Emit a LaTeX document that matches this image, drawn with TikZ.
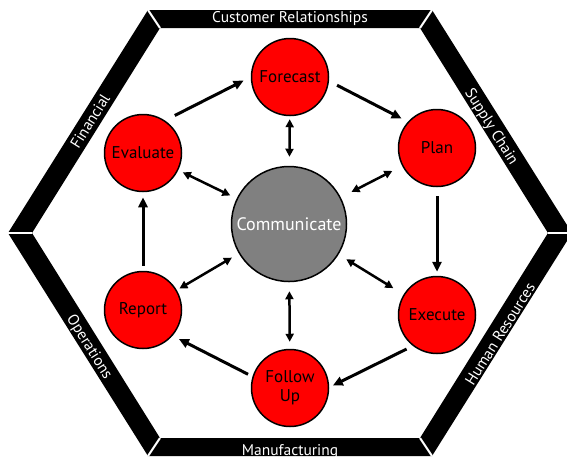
\documentclass[tikz,border=0pt]{standalone}
\usepackage{fontspec}
\setmainfont{PT Sans}
\usetikzlibrary{arrows.meta}
\pgfdeclarelayer{bg}
\pgfsetlayers{bg,main}
\tikzstyle{stage}=[fill=red, draw=black, line width=1.5pt, shape=circle, minimum size=77pt, inner sep=0pt, align=center, font=\fontsize{17}{19}\selectfont]
\tikzstyle{hub}=[fill=gray, draw=black, line width=1.5pt, shape=circle, minimum size=115pt, inner sep=0pt, text=white, font=\fontsize{18}{20}\selectfont]
\tikzstyle{flow}=[-{Triangle[length=10pt,width=9pt]}, line width=3pt]
\tikzstyle{link}=[{Triangle[length=8pt,width=8pt]}-{Triangle[length=8pt,width=8pt]}, line width=2.5pt]
\tikzstyle{band}=[fill=black, even odd rule]
\tikzstyle{gap}=[draw=white, line width=2pt]
\tikzstyle{bandtext}=[text=white, font=\fontsize{15.5}{17}\selectfont]

\begin{document}
\begin{tikzpicture}[x=1pt, y=-1pt]
    \useasboundingbox (0, 0) rectangle (567, 456);

    % the frame
    \fill [band] (148, 10) -- (432, 10) -- (572, 233) -- (432, 456) -- (148, 456) -- (8, 233) -- cycle
                 (160, 28) -- (420, 28) -- (548, 233) -- (420, 438) -- (160, 438) -- (32, 233) -- cycle;
    \draw [gap] (148, 10) -- (160, 28);
    \draw [gap] (432, 10) -- (420, 28);
    \draw [gap] (572, 233) -- (548, 233);
    \draw [gap] (432, 456) -- (420, 438);
    \draw [gap] (148, 456) -- (160, 438);
    \draw [gap] (8, 233) -- (32, 233);

    \node [bandtext] (t1) at (290, 19) {Customer Relationships};
    \node [bandtext, rotate=-58] (t2) at (491, 127) {Supply Chain};
    \node [bandtext, rotate=58] (t3) at (500, 334) {Human Resources};
    \node [bandtext] (t4) at (290, 452) {Manufacturing};
    \node [bandtext, rotate=-58] (t5) at (89, 347) {Operations};
    \node [bandtext, rotate=58] (t6) at (90, 121) {Financial};

    % the cycle
    \node [hub] (cm) at (289, 224) {Communicate};
    \node [stage] (fc) at (290, 77) {Forecast};
    \node [stage] (pl) at (437, 148) {Plan};
    \node [stage] (ex) at (437, 315) {Execute};
    \node [stage] (fu) at (290, 388) {Follow\\Up};
    \node [stage] (rp) at (143, 310) {Report};
    \node [stage] (ev) at (143, 153) {Evaluate};

    \begin{pgfonlayer}{bg}
        \draw [flow, shorten <=11pt, shorten >=8pt] (ev.56) -- (fc.180);
        \draw [flow, shorten <=9pt, shorten >=7pt] (fc.-6) -- (pl.138);
        \draw [flow, shorten <=9pt, shorten >=4pt] (pl.south) -- (ex.north);
        \draw [flow, shorten <=7pt, shorten >=4pt] (ex.232) -- (fu.1);
        \draw [flow, shorten <=5pt, shorten >=7pt] (fu.163) -- (rp.-41);
        \draw [flow, shorten <=5pt, shorten >=5pt] (rp.north) -- (ev.south);

        \draw [link, shorten <=9pt, shorten >=3pt] (cm) -- (fc);
        \draw [link, shorten <=12pt, shorten >=11pt] (cm) -- (pl);
        \draw [link, shorten <=9pt, shorten >=12pt] (cm) -- (ex);
        \draw [link, shorten <=9pt, shorten >=7pt] (cm) -- (fu);
        \draw [link, shorten <=8pt, shorten >=3pt] (cm) -- (rp);
        \draw [link, shorten <=7pt, shorten >=5pt] (cm) -- (ev);
    \end{pgfonlayer}
\end{tikzpicture}
\end{document}
